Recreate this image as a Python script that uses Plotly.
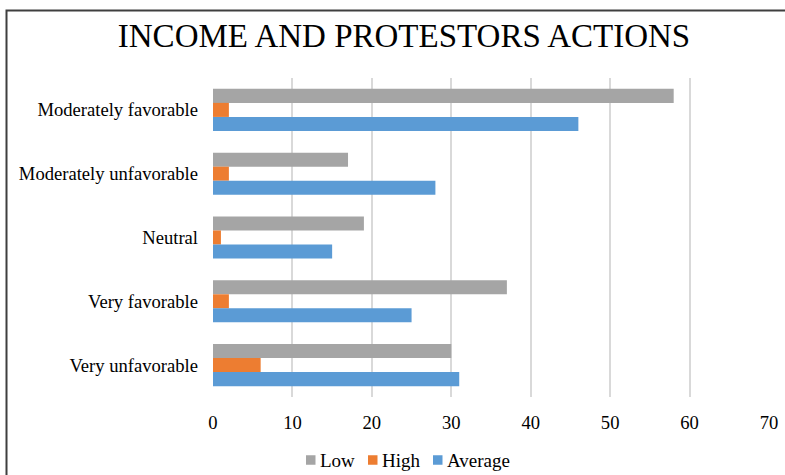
import plotly.graph_objects as go

# Survey responses by income level
categories = ["Moderately favorable", "Moderately unfavorable", "Neutral",
              "Very favorable", "Very unfavorable"]
low = [58, 17, 19, 37, 30]
high = [2, 2, 1, 2, 6]
average = [46, 28, 15, 25, 31]

series = [("Low", low, "#A5A5A5"),
          ("High", high, "#ED7D31"),
          ("Average", average, "#5B9BD5")]

FONT = "Liberation Serif, Times New Roman, serif"

fig = go.Figure()
for name, vals, color in series:
    fig.add_trace(go.Bar(
        y=categories, x=vals, name=name, orientation="h",
        marker=dict(color=color, line=dict(width=0)),
        showlegend=False,
    ))

W, H = 785, 475
L, R, T, B = 213, 16, 78, 78
pw, ph = W - L - R, H - T - B

def px_x(p):
    return (p - L) / pw

def px_y(p):
    return (H - B - p) / ph

# Legend row below the axis: a square key and a label per series
key_left = [306, 368, 433]
key_size = 9.5
legend_mid = 460
shapes = []
annotations = []
for (name, _, color), kx in zip(series, key_left):
    shapes.append(dict(type="rect", xref="paper", yref="paper",
                       x0=px_x(kx), x1=px_x(kx + key_size),
                       y0=px_y(legend_mid + key_size / 2),
                       y1=px_y(legend_mid - key_size / 2),
                       fillcolor=color, line=dict(width=0)))
    annotations.append(dict(text=name, xref="paper", yref="paper",
                            x=px_x(kx + key_size + 2), y=px_y(legend_mid),
                            xanchor="left", yanchor="middle",
                            showarrow=False,
                            font=dict(family=FONT, size=19, color="#000000")))

# Chart border (left and top edges)
shapes.append(dict(type="path", xref="paper", yref="paper",
                   path=f"M {px_x(6.5)},{px_y(480)} L {px_x(6.5)},{px_y(10.5)} L {px_x(790)},{px_y(10.5)}",
                   line=dict(color="#3F3F3F", width=2)))

fig.update_layout(
    width=W, height=H,
    margin=dict(l=L, r=R, t=T, b=B, autoexpand=False),
    paper_bgcolor="white", plot_bgcolor="white",
    barmode="group", bargap=0.34, bargroupgap=0,
    font=dict(family=FONT, size=18.6, color="#000000"),
    title=dict(text="INCOME AND PROTESTORS ACTIONS",
               font=dict(family=FONT, size=33, color="#000000"),
               x=404 / W, xanchor="center", xref="container",
               y=1 - 35 / H, yanchor="middle", yref="container"),
    xaxis=dict(range=[0, 70], dtick=10, showgrid=True, gridcolor="#D9D9D9",
               gridwidth=1.5, zeroline=False, showline=False,
               ticks="", ticklabelstandoff=12,
               tickfont=dict(family=FONT, size=18.6, color="#000000")),
    yaxis=dict(categoryorder="array", categoryarray=categories,
               autorange="reversed", showgrid=False, zeroline=False,
               showline=False, ticks="", ticklabelstandoff=14,
               tickfont=dict(family=FONT, size=18.6, color="#000000")),
    annotations=annotations,
    shapes=shapes,
)

fig.write_html("out.html")
